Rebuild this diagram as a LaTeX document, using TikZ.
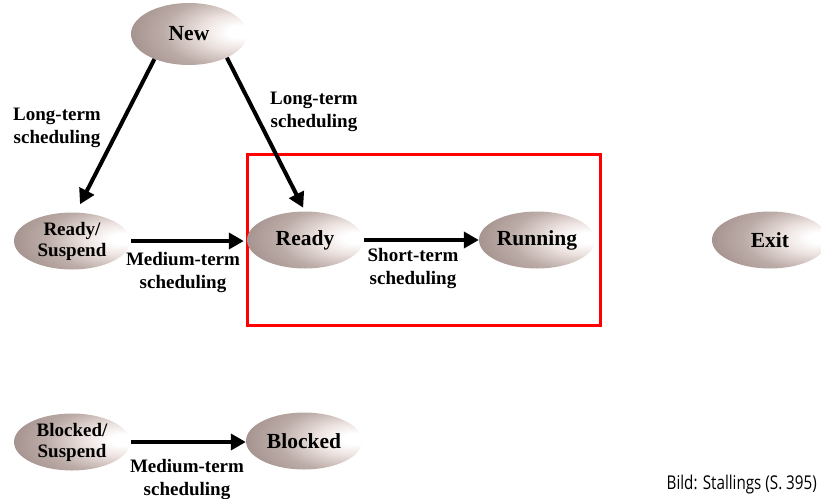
\documentclass[tikz,border=0pt]{standalone}
\usepackage{fontspec}
\usepackage{graphicx}
\setmainfont{Liberation Serif}
\newfontfamily\capfont{Open Sans}
\usetikzlibrary{shapes.geometric,arrows.meta}
\definecolor{eggA}{RGB}{236,226,223}
\definecolor{eggB}{RGB}{188,172,168}
\definecolor{eggC}{RGB}{148,128,124}
\definecolor{eggD}{RGB}{100,80,76}
\definecolor{boxred}{RGB}{255,0,0}
\pgfdeclareradialshading{eggshade}{\pgfpoint{23bp}{2bp}}{color(0bp)=(white); color(5bp)=(white); color(14bp)=(eggA); color(27bp)=(eggB); color(47bp)=(eggC); color(72bp)=(eggD); color(85bp)=(eggD)}
\begin{document}
\begin{tikzpicture}[x=1pt,y=-1pt,
  state/.style={ellipse, minimum width=116pt, minimum height=57pt, inner sep=0pt, shading=eggshade, font=\fontsize{21.5}{23}\selectfont\bfseries},
  state2/.style={state, align=center, font=\fontsize{19}{21}\selectfont\bfseries},
  lbl/.style={font=\fontsize{19}{23}\selectfont\bfseries, align=center, inner sep=0pt},
  arr/.style={line width=4pt, -{Triangle[length=15pt,width=16pt]}}]
\useasboundingbox (0,0) rectangle (821,498);
\draw[boxred, line width=3pt] (247,154) rectangle (600,325);
\node[state, minimum height=62pt] (new) at (189,34) {New};
\node[state2] (rs) at (72,241) {Ready/\\Suspend};
\node[state] (ready) at (305,240) {Ready};
\node[state] (running) at (537,240) {Running};
\node[state] (exit) at (770,240) {Exit};
\node[state2] (bs) at (72,442) {Blocked/\\Suspend};
\node[state] (blocked) at (304,441) {Blocked};
\draw[arr] (new.216) -- ([shift={(8,-8)}]rs.north);
\draw[arr, shorten >=4pt] (new.-32) -- (ready.north);
\draw[arr, shorten <=1pt, shorten >=3pt] (rs.east) -- (rs.east -| ready.west);
\draw[arr, shorten <=1pt] (ready.east) -- (running.west);
\draw[arr, shorten <=1pt] (bs.east) -- (bs.east -| blocked.west);
\node[lbl] (l1) at (57,128) {Long-term\\scheduling};
\node[lbl] (l2) at (314,112) {Long-term\\scheduling};
\node[lbl] (l3) at (183,272) {Medium-term\\scheduling};
\node[lbl] (l4) at (413,268) {Short-term\\scheduling};
\node[lbl] (l5) at (187,479) {Medium-term\\scheduling};
\node[anchor=base east, inner sep=0pt, font=\capfont\fontsize{19}{19}\selectfont] (src) at (817,489) {\scalebox{0.8}[1]{Bild: Stallings (S. 395)}};
\end{tikzpicture}
\end{document}
